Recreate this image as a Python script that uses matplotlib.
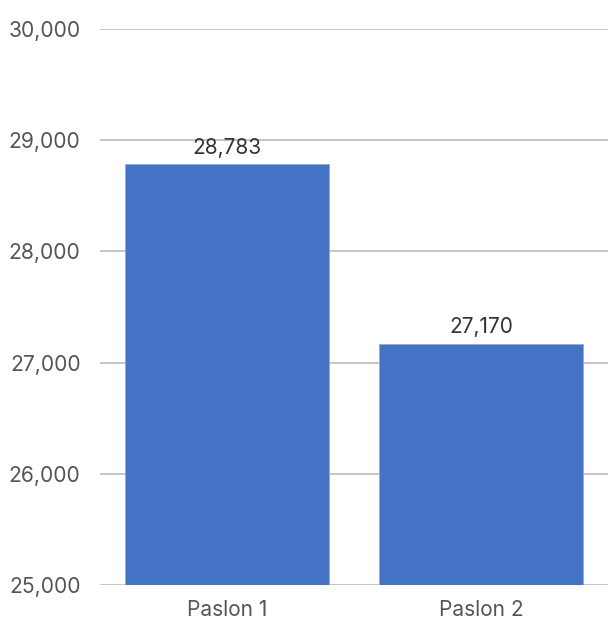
import matplotlib
matplotlib.use("Agg")
import matplotlib.pyplot as plt
from matplotlib.ticker import FuncFormatter

categories = ["Paslon 1", "Paslon 2"]
votes = [28783, 27170]
y_min, y_max, y_step = 25000, 30000, 1000

plt.rcParams["font.family"] = ["Inter", "DejaVu Sans"]

fig = plt.figure(figsize=(6.08, 6.21), dpi=100)
ax = fig.add_axes([100 / 608, 1 - 585 / 621, 508 / 608, (585 - 29) / 621])

x = list(range(len(categories)))
ax.bar(x, [v - y_min for v in votes], bottom=y_min, width=0.8,
       color="#4472C4", edgecolor="#9aa8c8", linewidth=0.6, zorder=3)

for xi, v in zip(x, votes):
    ax.text(xi, v + 60, f"{v:,}", ha="center", va="bottom",
            fontsize=15, color="#333333", zorder=4)

ax.set_xlim(-0.5, len(categories) - 0.5)
ax.set_ylim(y_min, y_max)
ax.set_yticks(range(y_min, y_max + 1, y_step))
ax.yaxis.set_major_formatter(FuncFormatter(lambda v, p: f"{int(v):,}"))
ax.set_xticks(x)
ax.set_xticklabels(categories)

ax.grid(axis="y", color="#bbbbbb", linewidth=1.2, zorder=0)
ax.set_axisbelow(True)
for s in ax.spines.values():
    s.set_visible(False)
ax.tick_params(axis="y", length=0, pad=14, labelsize=15.2, labelcolor="#555555")
ax.tick_params(axis="x", length=0, pad=11, labelsize=15, labelcolor="#555555")

fig.savefig("out.png", dpi=100, facecolor="white")
